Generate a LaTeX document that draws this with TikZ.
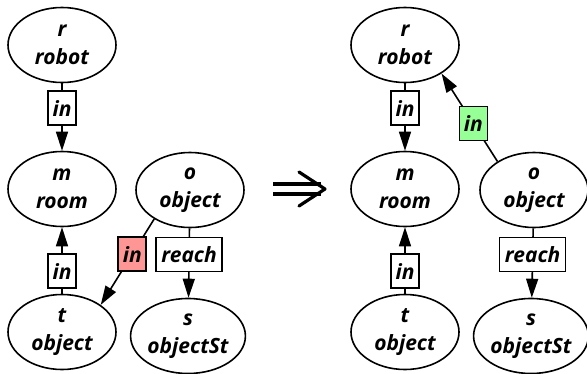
\documentclass[tikz,border=0pt]{standalone}
\usepackage{fontspec}
\setmainfont{Open Sans}
\usetikzlibrary{shapes.geometric,arrows.meta}
\tikzset{
  ent/.style={ellipse,draw,line width=1.6pt,minimum width=108pt,minimum height=75pt,inner sep=0pt,align=center,font=\fontsize{21}{28}\selectfont\bfseries\itshape},
  lab/.style={draw,line width=1.6pt,fill=white,inner sep=0pt,minimum width=28pt,minimum height=34pt,font=\fontsize{21}{24}\selectfont\bfseries\itshape},
  wlab/.style={lab,minimum width=66pt},
  rel/.style={line width=1.6pt,-{Triangle[length=19pt,width=12pt]}},
}
\begin{document}
\begin{tikzpicture}[x=1pt,y=-1pt]
\useasboundingbox (0,0) rectangle (587,373);
% left
\node[ent] (r1) at (62,45) {r\\robot};
\node[ent] (m1) at (62,189) {m\\room};
\node[ent] (o1) at (190,190) {o\\object};
\node[ent] (t1) at (62,332) {t\\object};
\node[ent] (s1) at (188,336) {s\\objectSt};
\draw[rel] (r1) -- node[lab,pos=0.37]{in} (m1);
\draw[rel] (t1) -- node[lab,pos=0.34]{in} (m1);
\draw[rel] (o1) -- node[wlab,pos=0.38]{reach} (s1);
\draw[rel] (o1.219) -- node[lab,fill={rgb,255:red,255;green,150;blue,150},pos=0.41]{in} (t1.35);
% arrow
\coordinate (a1) at (273,184);
\coordinate (a2) at (321,184);
\coordinate (a3) at (273,194);
\coordinate (a4) at (321,194);
\coordinate (c1) at (299,172);
\coordinate (c2) at (325,189);
\coordinate (c3) at (299,206);
\draw[line width=3.2pt] (a1) -- (a2) (a3) -- (a4);
\draw[line width=3.2pt,line cap=round,line join=round] (c1) -- (c2) -- (c3);
% right
\node[ent] (r2) at (405,45) {r\\robot};
\node[ent] (m2) at (405,189) {m\\room};
\node[ent] (o2) at (534,190) {o\\object};
\node[ent] (t2) at (405,332) {t\\object};
\node[ent] (s2) at (531,336) {s\\objectSt};
\draw[rel] (r2) -- node[lab,pos=0.37]{in} (m2);
\draw[rel] (t2) -- node[lab,pos=0.34]{in} (m2);
\draw[rel] (o2) -- node[wlab,pos=0.38]{reach} (s2);
\draw[rel] (o2.142) -- node[lab,fill={rgb,255:red,150;green,255;blue,150},pos=0.43]{in} (r2.322);
\end{tikzpicture}
\end{document}
